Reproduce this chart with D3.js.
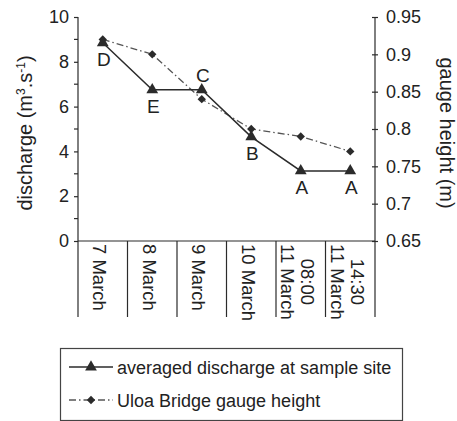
<!DOCTYPE html>
<html>
<head>
<meta charset="utf-8">
<script src="https://cdn.jsdelivr.net/npm/d3@7"></script>
<style>
  body { margin: 0; background: #fff; }
  svg { display: block; font-family: "Liberation Sans", Arial, sans-serif; }
  text { fill: #222; }
</style>
</head>
<body>
<svg id="chart" width="457" height="421"></svg>
<script>
// Sampling occasions along the x axis (multi-line labels split on "\n")
const categories = ["7 March", "8 March", "9 March", "10 March", "08:00\n11 March", "14:30\n11 March"];
// Averaged discharge at the sample site (m³/s) and its site letters
const discharge = [8.85, 6.75, 6.75, 4.65, 3.13, 3.13];
const siteLetters = ["D", "E", "C", "B", "A", "A"];
const letterAbove = [false, false, true, false, false, false];
// Uloa Bridge gauge height (m)
const gaugeHeight = [0.92, 0.90, 0.84, 0.80, 0.79, 0.77];
const dischargeTicks = [0, 2, 4, 6, 8, 10];
const gaugeTicks = [0.65, 0.7, 0.75, 0.8, 0.85, 0.9, 0.95];
const legendLabels = ["averaged discharge at sample site", "Uloa Bridge gauge height"];

(function draw() {
const svg = d3.select("#chart");
const ink = "#2b2b2b";
const pLeft = 78, pRight = 375, pTop = 17, pBottom = 241;

const x = d3.scaleBand().domain(categories).range([pLeft, pRight]).padding(0);
const yL = d3.scaleLinear().domain([0, 10]).range([pBottom, pTop]);
const yR = d3.scaleLinear().domain([0.65, 0.95]).range([pBottom, pTop]);
const cx = (i) => x(categories[i]) + x.bandwidth() / 2;

// Left axis: labelled every 2, minor ticks every 1
const gL = svg.append("g").attr("transform", `translate(${pLeft},0)`)
  .call(d3.axisLeft(yL).tickValues(dischargeTicks).tickSize(4).tickPadding(5));
gL.selectAll(".tick text").attr("font-size", 18).style("fill", "#222");
gL.selectAll("line, path").attr("stroke", ink).attr("stroke-width", 1.2);
gL.selectAll(".minor").data(d3.range(1, 10, 2)).enter().append("line")
  .attr("x1", -4).attr("x2", 0).attr("y1", d => yL(d)).attr("y2", d => yL(d))
  .attr("stroke", ink).attr("stroke-width", 1.2);
gL.select(".domain").attr("d", `M0,${pTop}V${pBottom}`);

// Right axis: ticks cross the line
const gR = svg.append("g").attr("transform", `translate(${pRight},0)`)
  .call(d3.axisRight(yR).tickValues(gaugeTicks).tickFormat(d3.format("~g")).tickSize(3).tickPadding(8));
gR.selectAll(".tick line").attr("x1", -3).attr("x2", 3);
gR.selectAll(".tick text").attr("font-size", 18).style("fill", "#222");
gR.selectAll("line, path").attr("stroke", ink).attr("stroke-width", 1.2);
gR.select(".domain").attr("d", `M0,${pTop}V${pBottom}`);

// Category axis: baseline with dividers between bands
svg.append("line").attr("x1", pLeft).attr("x2", pRight).attr("y1", pBottom).attr("y2", pBottom)
  .attr("stroke", ink).attr("stroke-width", 1.2);
const edges = categories.map(c => x(c)).concat([pRight]);
svg.selectAll(".divider").data(edges).enter().append("line")
  .attr("x1", d => d).attr("x2", d => d).attr("y1", pBottom).attr("y2", 317)
  .attr("stroke", ink).attr("stroke-width", 1.2);

// Rotated category labels, lines centred within a top-aligned block
categories.forEach((c, i) => {
  const lines = c.split("\n");
  const g = svg.append("g")
    .attr("transform", `translate(${cx(i)},${pBottom + 3}) rotate(90)`);
  const t = g.append("text").attr("font-size", 18.5).attr("text-anchor", "middle");
  const lh = 20;
  const n = lines.length;
  lines.forEach((ln, k) => {
    t.append("tspan").attr("x", 0).attr("y", (k - (n - 1) / 2) * lh + 9.5).text(ln);
  });
  const w = d3.max(t.selectAll("tspan").nodes(), nd => nd.getComputedTextLength());
  t.selectAll("tspan").attr("x", w / 2);
});

// Axis titles
svg.append("text").attr("transform", `translate(32,${(pTop + pBottom) / 2 + 4}) rotate(-90)`)
  .attr("text-anchor", "middle").attr("font-size", 20)
  .html('discharge (m<tspan dy="-7" font-size="12">3</tspan><tspan dy="7">.s</tspan><tspan dy="-7" font-size="12">-1</tspan><tspan dy="7">)</tspan>');
svg.append("text").attr("transform", `translate(440,${(pTop + pBottom) / 2 + 4}) rotate(90)`)
  .attr("text-anchor", "middle").attr("font-size", 20).text("gauge height (m)");

// Gauge height: dash-dot line with diamonds
const lineR = d3.line().x((d, i) => cx(i)).y(d => yR(d));
svg.append("path").datum(gaugeHeight).attr("d", lineR)
  .attr("fill", "none").attr("stroke", "#555").attr("stroke-width", 1.3)
  .attr("stroke-dasharray", "7,3,1.5,3");
const diamond = d3.symbol().type(d3.symbolDiamond2).size(45);
svg.selectAll(".gauge").data(gaugeHeight).enter().append("path")
  .attr("transform", (d, i) => `translate(${cx(i)},${yR(d)})`)
  .attr("d", diamond).attr("fill", ink);

// Discharge: solid line with triangles
const lineL = d3.line().x((d, i) => cx(i)).y(d => yL(d));
svg.append("path").datum(discharge).attr("d", lineL)
  .attr("fill", "none").attr("stroke", ink).attr("stroke-width", 1.5);
const tri = d3.symbol().type(d3.symbolTriangle).size(60);
svg.selectAll(".dis").data(discharge).enter().append("path")
  .attr("transform", (d, i) => `translate(${cx(i)},${yL(d)})`)
  .attr("d", tri).attr("fill", ink);

// Site letters
svg.selectAll(".site").data(discharge).enter().append("text")
  .attr("x", (d, i) => cx(i) + 1)
  .attr("y", (d, i) => letterAbove[i] ? yL(d) - 8 : yL(d) + 23)
  .attr("text-anchor", "middle").attr("font-size", 19)
  .text((d, i) => siteLetters[i]);

// Legend
const lg = svg.append("g");
lg.append("rect").attr("x", 60.5).attr("y", 348.5).attr("width", 342).attr("height", 72)
  .attr("fill", "none").attr("stroke", "#444").attr("stroke-width", 1.2);
const rowY = [367, 400];
lg.append("line").attr("x1", 69).attr("x2", 113).attr("y1", rowY[0]).attr("y2", rowY[0])
  .attr("stroke", ink).attr("stroke-width", 1.5);
lg.append("path").attr("transform", `translate(91,${rowY[0]})`).attr("d", tri).attr("fill", ink);
lg.append("line").attr("x1", 69).attr("x2", 113).attr("y1", rowY[1]).attr("y2", rowY[1])
  .attr("stroke", "#555").attr("stroke-width", 1.3).attr("stroke-dasharray", "7,3,1.5,3");
lg.append("path").attr("transform", `translate(91,${rowY[1]})`).attr("d", diamond).attr("fill", ink);
legendLabels.forEach((l, i) => {
  lg.append("text").attr("x", 117).attr("y", rowY[i] + 6.5).attr("font-size", 18).text(l);
});
})();
</script>
</body>
</html>
